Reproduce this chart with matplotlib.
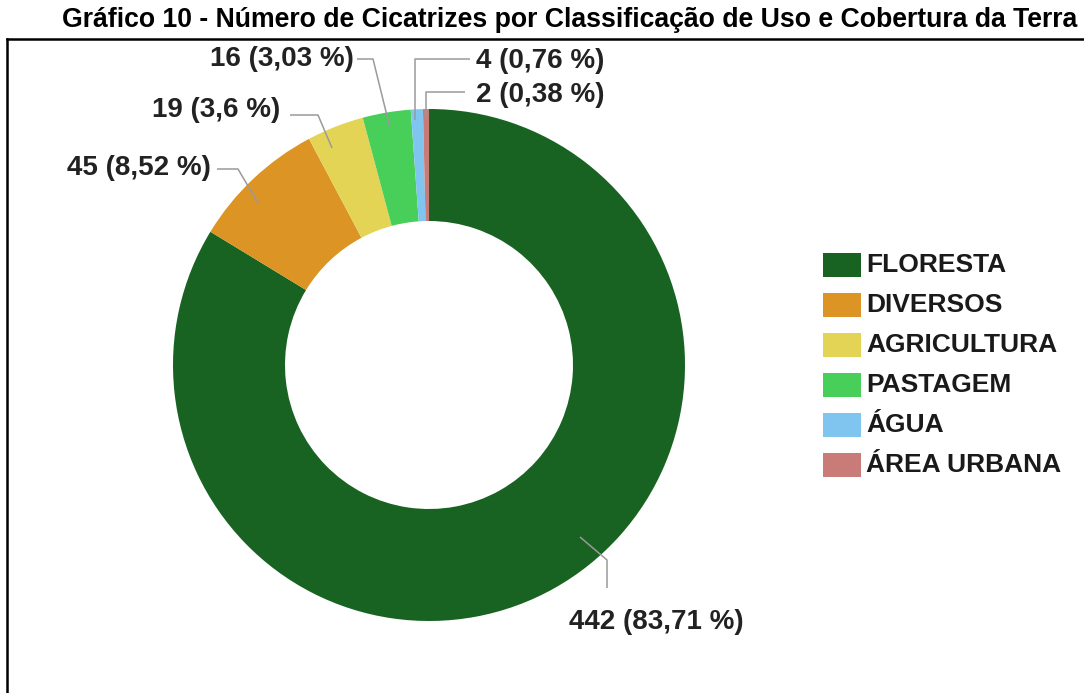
import matplotlib
matplotlib.use("Agg")
import matplotlib.pyplot as plt
from matplotlib.patches import Rectangle

plt.rcParams['font.family'] = ['Liberation Sans', 'DejaVu Sans']

# ---- data ----
categories = ["FLORESTA", "DIVERSOS", "AGRICULTURA", "PASTAGEM", "ÁGUA", "ÁREA URBANA"]
counts = [442, 45, 19, 16, 4, 2]
colors = ["#186322", "#DC9424", "#E4D455", "#47CF5A", "#80C5F0", "#C97B78"]
title = "Gráfico 10 - Número de Cicatrizes por Classificação de Uso e Cobertura da Terra"

# ---- layout (pixel space, y grows downward) ----
W, H = 1084, 693
center = (429, 365)
outer_r = 256
ring_w = 112

# leader paths and label anchors for each slice: (path points, label xy, ha)
leaders = [
    ([(580, 537), (607, 560), (607, 588)], (656, 622), "center"),
    ([(258, 203), (238, 169), (217, 169)], (211, 168), "right"),
    ([(332, 148), (318, 115), (290, 115)], (280, 110), "right"),
    ([(390, 128), (373, 59), (357, 59)], (354, 59), "right"),
    ([(415, 120), (415, 59), (470, 59)], (476, 61), "left"),
    ([(426, 118), (426, 92), (465, 92)], (476, 95), "left"),
]

fig = plt.figure(figsize=(W / 100, H / 100), dpi=100)
ax = fig.add_axes([0, 0, 1, 1])

ax.pie(counts, colors=colors, center=center, radius=outer_r,
       startangle=270, counterclock=True,
       wedgeprops=dict(width=ring_w, linewidth=0))

ax.set_aspect('auto')
ax.set_xlim(0, W)
ax.set_ylim(H, 0)
ax.axis('off')

total = sum(counts)
for n, (path, (lx, ly), ha) in zip(counts, leaders):
    xs, ys = zip(*path)
    ax.plot(xs, ys, color="#9a9a9a", lw=1.1, solid_capstyle='butt', zorder=3)
    pct = f"{100 * n / total:.2f}".rstrip('0').rstrip('.').replace('.', ',')
    ax.text(lx, ly, f"{n} ({pct} %)", ha=ha, va='center',
            fontsize=20, fontweight='bold', color='#222222', zorder=4)

# legend
for i, (cat, col) in enumerate(zip(categories, colors)):
    cy = 265 + 40 * i
    ax.add_patch(Rectangle((823, cy - 12), 38, 24, facecolor=col, edgecolor='none'))
    ax.text(866, cy, cat, ha='left', va='center', fontsize=19,
            fontweight='bold', color='#1a1a1a')

# outer frame (left and top edges)
ax.plot([7, 7], [H + 5, 39], color='black', lw=1.8, solid_capstyle='projecting')
ax.plot([7, W + 5], [39, 39], color='black', lw=1.8, solid_capstyle='projecting')

# title sized to span its line
t = ax.text(570, 20, title, ha='center', va='center', fontsize=15,
            fontweight='bold', color='black')
fig.canvas.draw()
w = t.get_window_extent().width
t.set_fontsize(15 * 1023 / w)

fig.savefig("out.png", dpi=100, facecolor='white')
